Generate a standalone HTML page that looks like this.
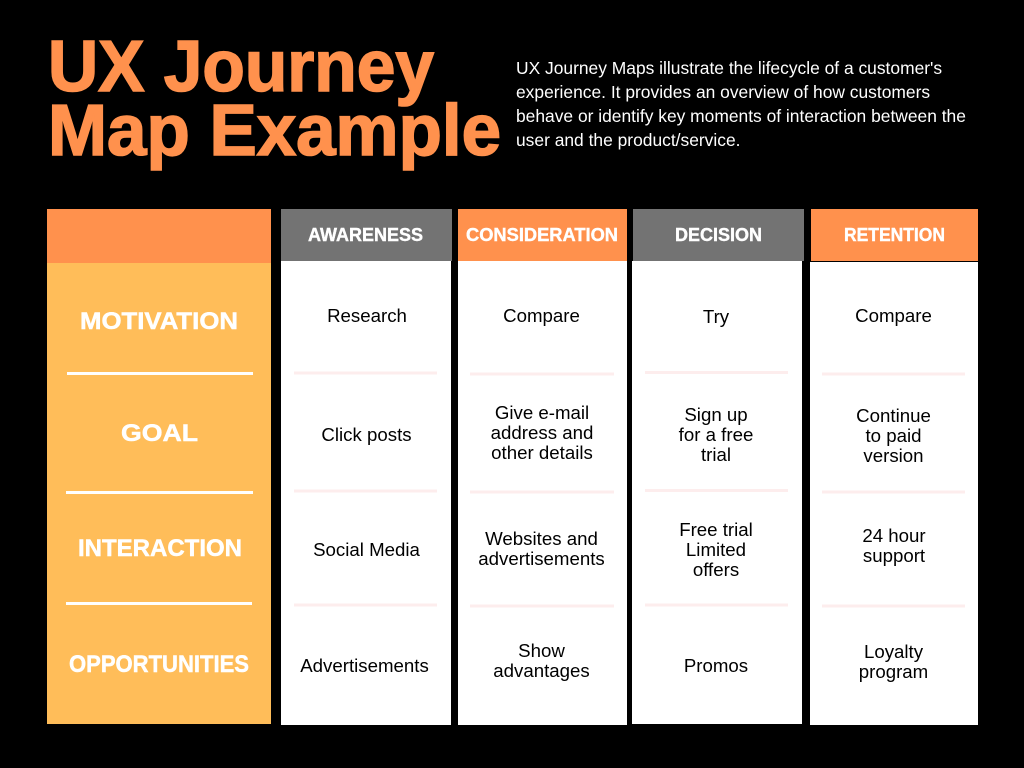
<!DOCTYPE html>
<html><head><meta charset="utf-8"><style>
html,body{margin:0;padding:0;background:#000;width:1024px;height:768px;overflow:hidden}
svg{display:block}
text{font-family:"Liberation Sans",sans-serif}
.t{font-weight:700;fill:#ff914d;stroke:#ff914d;stroke-width:1.6px;font-size:72px}
.h{font-weight:700;fill:#fff;stroke:#fff;stroke-width:.4px;font-size:18px}
.l{font-weight:700;fill:#fff;stroke:#fff;stroke-width:.5px;font-size:24px}
.b{fill:#000;font-size:18.67px;text-anchor:middle}
.i{fill:#fff;font-size:17.41px}
</style></head><body>
<svg width="1024" height="768" viewBox="0 0 1024 768" xmlns="http://www.w3.org/2000/svg">
<rect width="1024" height="768" fill="#000"/>
<text class="t" x="48" y="91" textLength="386" lengthAdjust="spacingAndGlyphs">UX Journey</text>
<text class="t" x="48" y="155" textLength="453" lengthAdjust="spacingAndGlyphs">Map Example</text>
<text class="i" x="516" y="74">UX Journey Maps illustrate the lifecycle of a customer's</text>
<text class="i" x="516" y="98">experience. It provides an overview of how customers</text>
<text class="i" x="516" y="122">behave or identify key moments of interaction between the</text>
<text class="i" x="516" y="146">user and the product/service.</text>

<rect x="47" y="209" width="224" height="54" fill="#ff914d"/>
<rect x="47" y="263" width="224" height="461" fill="#ffbd59"/>
<rect x="281" y="209" width="171" height="52" fill="#737373"/>
<rect x="458" y="209" width="169" height="52" fill="#ff914d"/>
<rect x="633" y="209" width="171" height="52" fill="#737373"/>
<rect x="811" y="209" width="167" height="52" fill="#ff914d"/>
<rect x="281" y="261" width="170" height="464" fill="#fff"/>
<rect x="458" y="261" width="169" height="464" fill="#fff"/>
<rect x="632" y="261" width="170" height="463" fill="#fff"/>
<rect x="810" y="262" width="168" height="463" fill="#fff"/>

<g fill="#fff">
<rect x="67" y="372" width="186" height="3"/>
<rect x="66" y="491" width="187" height="3"/>
<rect x="66" y="602" width="186" height="3"/>
</g>
<g fill="#fdeded">
<rect x="294" y="371.500" width="143" height="3"/>
<rect x="294" y="489.500" width="143" height="3"/>
<rect x="294" y="603.500" width="143" height="3"/>
<rect x="470" y="372.500" width="144" height="3"/>
<rect x="470" y="490.500" width="144" height="3"/>
<rect x="470" y="604.500" width="144" height="3"/>
<rect x="645" y="371" width="143" height="3"/>
<rect x="645" y="489" width="143" height="3"/>
<rect x="645" y="603.500" width="143" height="3"/>
<rect x="822" y="372.500" width="143" height="3"/>
<rect x="822" y="490.500" width="143" height="3"/>
<rect x="822" y="604.500" width="143" height="3"/>
</g>

<text class="h" x="308" y="241" textLength="115" lengthAdjust="spacingAndGlyphs">AWARENESS</text>
<text class="h" x="466" y="241" textLength="152" lengthAdjust="spacingAndGlyphs">CONSIDERATION</text>
<text class="h" x="675" y="241" textLength="87" lengthAdjust="spacingAndGlyphs">DECISION</text>
<text class="h" x="844" y="241" textLength="101" lengthAdjust="spacingAndGlyphs">RETENTION</text>

<text class="l" x="80" y="329" textLength="158" lengthAdjust="spacingAndGlyphs">MOTIVATION</text>
<text class="l" x="121" y="441" textLength="77" lengthAdjust="spacingAndGlyphs">GOAL</text>
<text class="l" x="78" y="556" textLength="164" lengthAdjust="spacingAndGlyphs">INTERACTION</text>
<text class="l" x="69" y="672" textLength="180" lengthAdjust="spacingAndGlyphs">OPPORTUNITIES</text>

<text class="b" x="367" y="322">Research</text>
<text class="b" x="366.500" y="441">Click posts</text>
<text class="b" x="366.500" y="556">Social Media</text>
<text class="b" x="364.500" y="672">Advertisements</text>

<text class="b" x="541.500" y="322">Compare</text>
<text class="b" x="542" y="419">Give e-mail</text>
<text class="b" x="542" y="439">address and</text>
<text class="b" x="542" y="459">other details</text>
<text class="b" x="541.500" y="545">Websites and</text>
<text class="b" x="541.500" y="565">advertisements</text>
<text class="b" x="541.500" y="657">Show</text>
<text class="b" x="541.500" y="677">advantages</text>

<text class="b" x="716" y="323">Try</text>
<text class="b" x="716" y="421">Sign up</text>
<text class="b" x="716" y="441">for a free</text>
<text class="b" x="716" y="461">trial</text>
<text class="b" x="716" y="536">Free trial</text>
<text class="b" x="716" y="556">Limited</text>
<text class="b" x="716" y="576">offers</text>
<text class="b" x="716" y="672">Promos</text>

<text class="b" x="893.500" y="322">Compare</text>
<text class="b" x="893.500" y="422">Continue</text>
<text class="b" x="893.500" y="442">to paid</text>
<text class="b" x="893.500" y="462">version</text>
<text class="b" x="894" y="542">24 hour</text>
<text class="b" x="894" y="562">support</text>
<text class="b" x="893.500" y="658">Loyalty</text>
<text class="b" x="893.500" y="678">program</text>
</svg>
</body></html>
